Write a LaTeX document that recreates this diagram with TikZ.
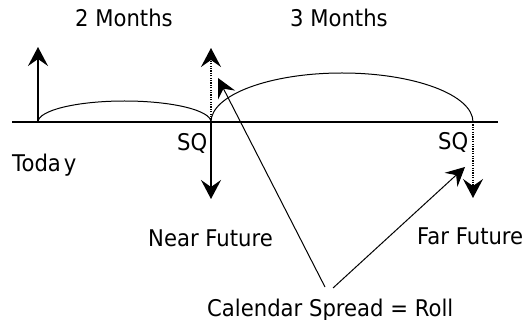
\documentclass[tikz,border=0pt]{standalone}
\usepackage{fontspec}
\setmainfont{DejaVu Sans}[FakeStretch=0.92]
\usetikzlibrary{arrows.meta}
\tikzset{
  lbl/.style={inner sep=0pt, anchor=base west, font=\fontsize{23}{27}\selectfont},
  bigtip/.style={-{Stealth[length=19pt,width=20pt,inset=7pt]}},
  thicktip/.style={bigtip, line width=2pt},
  dottip/.style={bigtip, line width=1.6pt, dash pattern=on 1.2pt off 1.2pt},
  thintip/.style={-{Stealth[length=19pt,width=19pt,inset=7pt]}, line width=1pt},
  axis/.style={line width=1.3pt},
  arcline/.style={line width=1pt}
}
\begin{document}
\begin{tikzpicture}[x=1pt,y=-1pt]
\useasboundingbox (0,0) rectangle (527,320);
% coordinates
\coordinate (L) at (12,122);
\coordinate (R) at (498,122);
\coordinate (T0) at (38,122);
\coordinate (T1) at (38,47);
\coordinate (N0) at (211,122);
\coordinate (N1) at (211,48);
\coordinate (N2) at (211,199);
\coordinate (F0) at (473,122);
\coordinate (F1) at (473,198);
\coordinate (C1) at (325,287);
\coordinate (C2) at (333,288);
\coordinate (D1) at (218,78);
\coordinate (D2) at (465,167);
% axis
\draw[axis] (L) -- (R);
% arcs
\draw[arcline] (T0) arc[start angle=180, end angle=0, x radius=86.5, y radius=-21];
\draw[arcline] (N0) arc[start angle=180, end angle=0, x radius=131, y radius=-49];
% arrows
\draw[thicktip] (T0) -- (T1);
\draw[dottip] (N0) -- (N1);
\draw[thicktip] (N0) -- (N2);
\draw[dottip] (F0) -- (F1);
\draw[thintip] (C1) -- (D1);
\draw[thintip] (C2) -- (D2);
% labels
\node[lbl] (m2) at (75,27) {2 Months};
\node[lbl] (m3) at (290,27) {3 Months};
\node[lbl] (today) at (12,172) {Toda\hspace{3pt}y};
\node[lbl] (sq1) at (177,151) {SQ};
\node[lbl] (sq2) at (438,150) {SQ};
\node[lbl] (near) at (148,247) {Near Future};
\node[lbl] (far) at (417,244) {Far Future};
\node[lbl] (cal) at (207,316) {Calendar Spread = Roll};
\end{tikzpicture}
\end{document}
